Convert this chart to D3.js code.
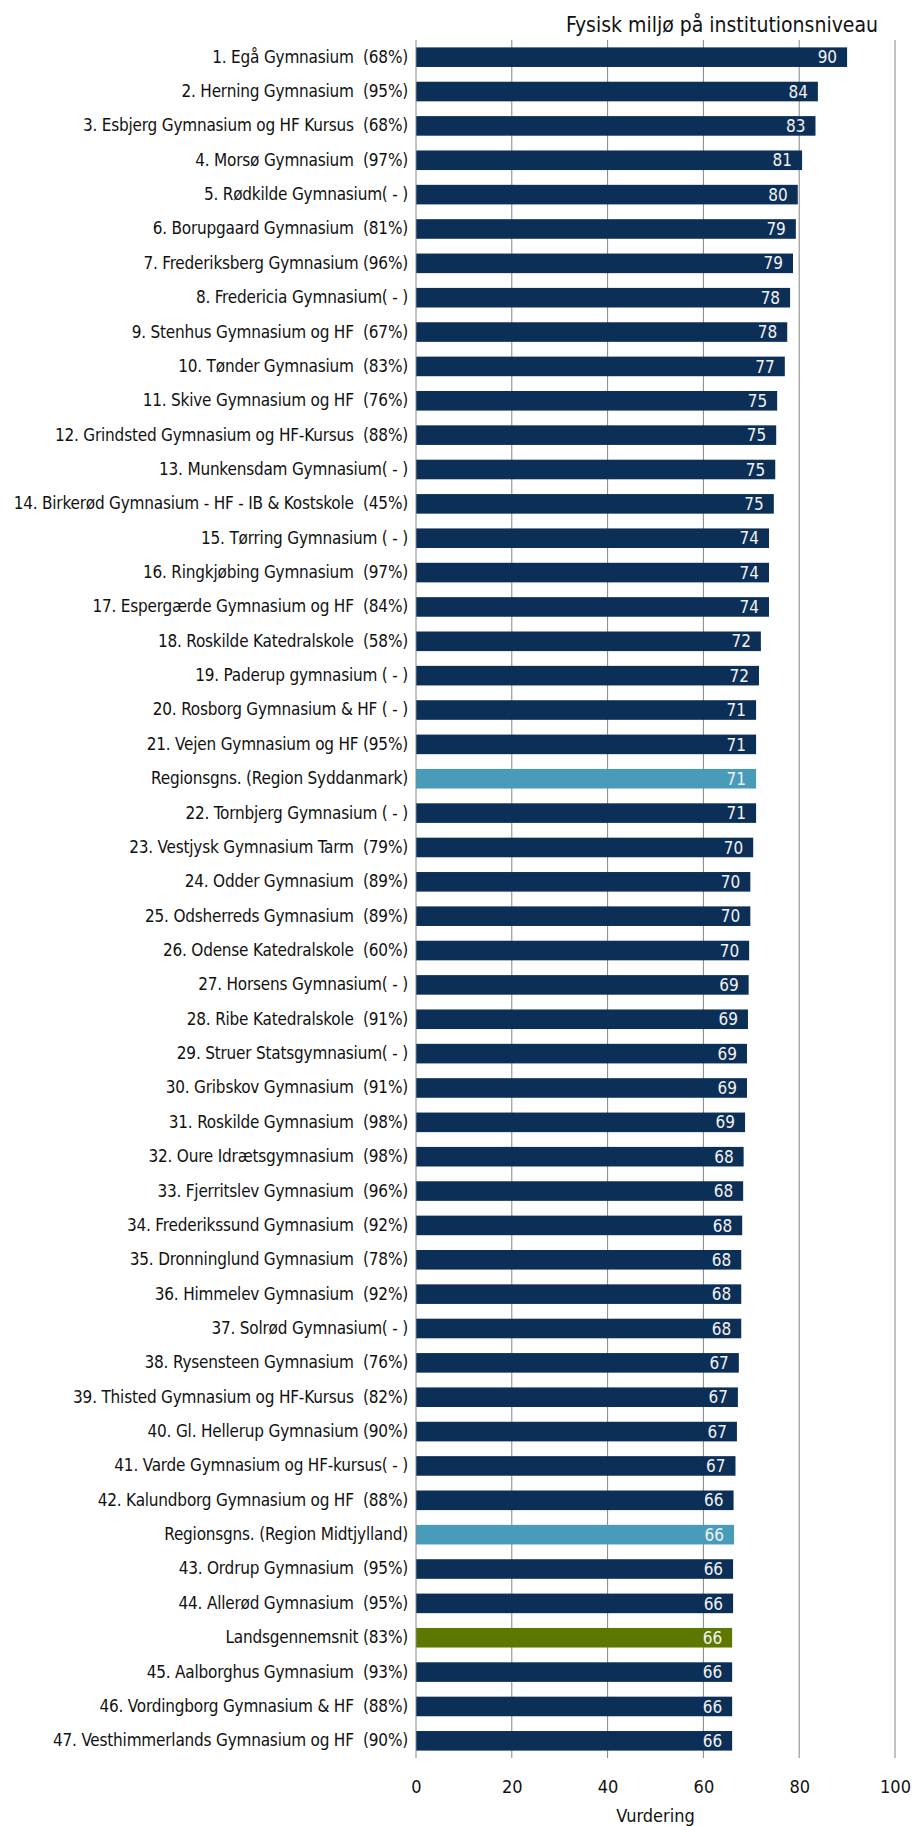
<!DOCTYPE html>
<html>
<head>
<meta charset="utf-8">
<script src="https://cdn.jsdelivr.net/npm/d3@7"></script>
<style>
  body { margin: 0; background: #fff; }
  text { font-family: Tahoma, "DejaVu Sans Condensed", "DejaVu Sans", sans-serif; white-space: pre; }
</style>
</head>
<body>
<div id="chart"></div>
<script>
// chart data
const LABELS = [
  "1. Egå Gymnasium  (68%)",
  "2. Herning Gymnasium  (95%)",
  "3. Esbjerg Gymnasium og HF Kursus  (68%)",
  "4. Morsø Gymnasium  (97%)",
  "5. Rødkilde Gymnasium( - )",
  "6. Borupgaard Gymnasium  (81%)",
  "7. Frederiksberg Gymnasium (96%)",
  "8. Fredericia Gymnasium( - )",
  "9. Stenhus Gymnasium og HF  (67%)",
  "10. Tønder Gymnasium  (83%)",
  "11. Skive Gymnasium og HF  (76%)",
  "12. Grindsted Gymnasium og HF-Kursus  (88%)",
  "13. Munkensdam Gymnasium( - )",
  "14. Birkerød Gymnasium - HF - IB & Kostskole  (45%)",
  "15. Tørring Gymnasium ( - )",
  "16. Ringkjøbing Gymnasium  (97%)",
  "17. Espergærde Gymnasium og HF  (84%)",
  "18. Roskilde Katedralskole  (58%)",
  "19. Paderup gymnasium ( - )",
  "20. Rosborg Gymnasium & HF ( - )",
  "21. Vejen Gymnasium og HF (95%)",
  "Regionsgns. (Region Syddanmark)",
  "22. Tornbjerg Gymnasium ( - )",
  "23. Vestjysk Gymnasium Tarm  (79%)",
  "24. Odder Gymnasium  (89%)",
  "25. Odsherreds Gymnasium  (89%)",
  "26. Odense Katedralskole  (60%)",
  "27. Horsens Gymnasium( - )",
  "28. Ribe Katedralskole  (91%)",
  "29. Struer Statsgymnasium( - )",
  "30. Gribskov Gymnasium  (91%)",
  "31. Roskilde Gymnasium  (98%)",
  "32. Oure Idrætsgymnasium  (98%)",
  "33. Fjerritslev Gymnasium  (96%)",
  "34. Frederikssund Gymnasium  (92%)",
  "35. Dronninglund Gymnasium  (78%)",
  "36. Himmelev Gymnasium  (92%)",
  "37. Solrød Gymnasium( - )",
  "38. Rysensteen Gymnasium  (76%)",
  "39. Thisted Gymnasium og HF-Kursus  (82%)",
  "40. Gl. Hellerup Gymnasium (90%)",
  "41. Varde Gymnasium og HF-kursus( - )",
  "42. Kalundborg Gymnasium og HF  (88%)",
  "Regionsgns. (Region Midtjylland)",
  "43. Ordrup Gymnasium  (95%)",
  "44. Allerød Gymnasium  (95%)",
  "Landsgennemsnit (83%)",
  "45. Aalborghus Gymnasium  (93%)",
  "46. Vordingborg Gymnasium & HF  (88%)",
  "47. Vesthimmerlands Gymnasium og HF  (90%)"
];

const VALUES = [
  90.0, 83.9, 83.4, 80.6, 79.7, 79.3, 78.7, 78.1, 77.5, 77.0,
  75.4, 75.2, 75.0, 74.7, 73.7, 73.7, 73.7, 72.0, 71.6, 71.0,
  71.0, 71.0, 71.0, 70.4, 69.8, 69.8, 69.55, 69.45, 69.3, 69.1,
  69.1, 68.7, 68.4, 68.3, 68.1, 67.9, 67.9, 67.9, 67.4, 67.2,
  67.0, 66.7, 66.3, 66.4, 66.2, 66.2, 66.0, 66.0, 66.0, 66.0
];

// bar type: "school", "region", "country"
const KINDS = LABELS.map(l => l.startsWith("Regionsgns") ? "region"
                              : l.startsWith("Landsgennemsnit") ? "country" : "school");

const X_TICKS = [0, 20, 40, 60, 80, 100];
const TITLE = "Fysisk miljø på institutionsniveau";
const X_TITLE = "Vurdering";

const COLORS = {school: "#0c2f57", region: "#489cb9", country: "#5c7800"};

const FRAME_WIDTH = 914;
const FRAME_HEIGHT = 1826;
const MARGINS = {left: 416, right: 19, top: 40, bottom: 68};

const VIS_WIDTH = FRAME_WIDTH - MARGINS.left - MARGINS.right;
const VIS_HEIGHT = FRAME_HEIGHT - MARGINS.top - MARGINS.bottom;

const FRAME = d3.select("#chart")
                .append("svg")
                  .attr("width", FRAME_WIDTH)
                  .attr("height", FRAME_HEIGHT);

const X_SCALE = d3.scaleLinear()
                  .domain([0, 100])
                  .range([0, VIS_WIDTH]);

const Y_SCALE = d3.scaleBand()
                  .domain(LABELS)
                  .range([0, VIS_HEIGHT])
                  .paddingInner(0.43)
                  .paddingOuter(0.215);

const G = FRAME.append("g")
               .attr("transform", "translate(" + MARGINS.left + "," + MARGINS.top + ")");

// vertical gridlines
G.selectAll(".grid")
  .data(X_TICKS.slice(1))
  .enter().append("line")
    .attr("class", "grid")
    .attr("x1", d => X_SCALE(d))
    .attr("x2", d => X_SCALE(d))
    .attr("y1", 0)
    .attr("y2", VIS_HEIGHT)
    .attr("stroke", "#858585")
    .attr("stroke-width", 1);

// bars
G.selectAll(".bar")
  .data(VALUES)
  .enter().append("rect")
    .attr("class", "bar")
    .attr("x", 0)
    .attr("y", (d, i) => Y_SCALE(LABELS[i]))
    .attr("width", d => X_SCALE(d))
    .attr("height", Y_SCALE.bandwidth())
    .attr("fill", (d, i) => COLORS[KINDS[i]]);

// value labels inside bars
G.selectAll(".val")
  .data(VALUES)
  .enter().append("text")
    .attr("class", "val")
    .attr("x", d => X_SCALE(d) - 10)
    .attr("y", (d, i) => Y_SCALE(LABELS[i]) + Y_SCALE.bandwidth() / 2)
    .attr("dy", "0.36em")
    .attr("text-anchor", "end")
    .attr("fill", "#f2f2f2")
    .attr("font-size", 17)
    .text(d => Math.round(d));

// y axis (category labels)
const Y_AXIS = G.append("g")
                .call(d3.axisLeft(Y_SCALE).tickSize(0).tickPadding(8));
Y_AXIS.select(".domain").remove();
Y_AXIS.selectAll("text")
      .attr("font-size", 17)
      .attr("letter-spacing", -0.2)
      .attr("fill", "#111");

// left axis line
G.append("line")
  .attr("x1", 0).attr("x2", 0)
  .attr("y1", 0).attr("y2", VIS_HEIGHT)
  .attr("stroke", "#858585");

// x axis
const X_AXIS = G.append("g")
                .attr("transform", "translate(0," + VIS_HEIGHT + ")")
                .call(d3.axisBottom(X_SCALE).tickValues(X_TICKS).tickSize(0).tickPadding(22));
X_AXIS.select(".domain").remove();
X_AXIS.selectAll("text")
      .attr("font-size", 18)
      .attr("fill", "#111");

// axis title
FRAME.append("text")
  .attr("x", MARGINS.left + VIS_WIDTH / 2)
  .attr("y", 1822)
  .attr("text-anchor", "middle")
  .attr("font-size", 18)
  .attr("fill", "#111")
  .text(X_TITLE);

// chart title
FRAME.append("text")
  .attr("x", 878)
  .attr("y", 32)
  .attr("text-anchor", "end")
  .attr("font-size", 21)
  .attr("fill", "#111")
  .text(TITLE);
</script>
</body>
</html>
